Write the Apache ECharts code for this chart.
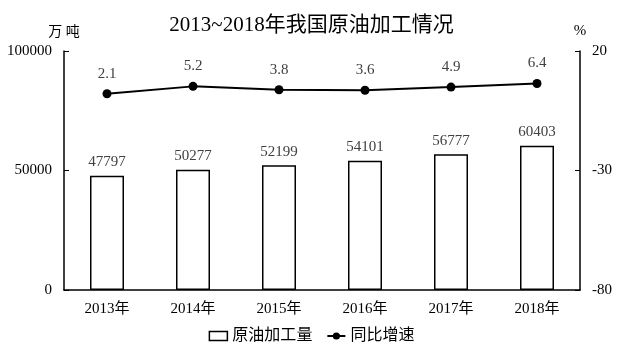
<!DOCTYPE html>
<html>
<head>
<meta charset="utf-8">
<script src="https://cdn.jsdelivr.net/npm/echarts@6/dist/echarts.min.js"></script>
<style>
    html, body { margin: 0; padding: 0; background: #fff; }
    #main { width: 623px; height: 351px; }
</style>
</head>
<body>
<div id="main"></div>
<script>
var years = ['2013年', '2014年', '2015年', '2016年', '2017年', '2018年'];
var output = [47797, 50277, 52199, 54101, 56777, 60403];
var growth = [2.1, 5.2, 3.8, 3.6, 4.9, 6.4];

var serif = '"Liberation Serif", "Times New Roman", "Noto Sans CJK SC", serif';
var myChart = echarts.init(document.getElementById('main'));
var option = {
    backgroundColor: '#fff',
    animation: false,
    textStyle: { fontFamily: serif },
    title: {
        text: '2013~2018年我国原油加工情况',
        left: 'center',
        top: 10,
        textStyle: { fontFamily: serif, fontSize: 21, fontWeight: 'normal', color: '#000' }
    },
    legend: {
        bottom: 2,
        left: 'center',
        itemGap: 14,
        textStyle: { fontFamily: serif, fontSize: 16, color: '#000' },
        data: [
            { name: '原油加工量', icon: 'rect', itemStyle: { color: '#fff', borderColor: '#000', borderWidth: 1.5 } },
            { name: '同比增速' }
        ],
        itemWidth: 18,
        itemHeight: 9
    },
    grid: { left: 64, right: 43, top: 51, bottom: 61 },
    xAxis: {
        type: 'category',
        data: years,
        axisLine: { lineStyle: { color: '#000', width: 1.5 } },
        axisTick: { inside: true, length: 5, lineStyle: { color: '#000' } },
        axisLabel: { color: '#000', fontSize: 15, fontFamily: serif, margin: 12 }
    },
    yAxis: [
        {
            type: 'value',
            name: '万 吨',
            nameLocation: 'end',
            nameGap: 12,
            nameTextStyle: { color: '#000', fontSize: 14, fontFamily: serif, align: 'center' },
            min: 0, max: 100000, interval: 50000,
            axisLine: { show: true, lineStyle: { color: '#000', width: 1.5 } },
            axisTick: { show: true, inside: true, length: 5, lineStyle: { color: '#000' } },
            axisLabel: {
                color: '#000', fontSize: 15, fontFamily: serif, margin: 12,
                formatter: function (v) { return String(v); }
            },
            splitLine: { show: false }
        },
        {
            type: 'value',
            name: '%',
            nameLocation: 'end',
            nameGap: 12,
            nameTextStyle: { color: '#000', fontSize: 15, fontFamily: serif, align: 'center' },
            min: -80, max: 20, interval: 50,
            axisLine: { show: true, lineStyle: { color: '#000', width: 1.5 } },
            axisTick: { show: true, inside: true, length: 5, lineStyle: { color: '#000' } },
            axisLabel: { color: '#000', fontSize: 15, fontFamily: serif, margin: 12 },
            splitLine: { show: false }
        }
    ],
    series: [
        {
            name: '原油加工量',
            type: 'bar',
            data: output,
            barWidth: 34,
            itemStyle: { color: '#fff', borderColor: '#000', borderWidth: 1.5 },
            label: { show: true, position: 'top', distance: 6, color: '#404040', fontSize: 15, fontFamily: serif }
        },
        {
            name: '同比增速',
            type: 'line',
            yAxisIndex: 1,
            data: growth,
            symbol: 'circle',
            symbolSize: 9,
            lineStyle: { color: '#000', width: 2 },
            itemStyle: { color: '#000' },
            label: { show: true, position: 'top', distance: 8, color: '#404040', fontSize: 15, fontFamily: serif }
        }
    ]
};
myChart.setOption(option);
</script>
</body>
</html>
